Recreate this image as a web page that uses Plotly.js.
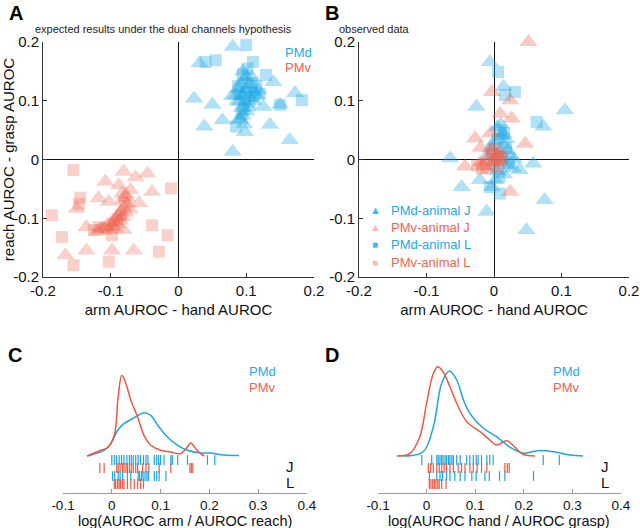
<!DOCTYPE html>
<html>
<head>
<meta charset="utf-8">
<script src="https://cdn.plot.ly/plotly-3.0.1.min.js"></script>
<style>body{margin:0}#graph{width:640px;height:528px}</style>
</head>
<body>
<div id="graph"></div>
<script>
// Colours
const blue = 'rgb(30,170,230)';
const red = 'rgb(240,100,80)';
const blueLine = 'rgb(30,165,225)';
const redLine = 'rgb(235,90,65)';
const font = 'Liberation Sans, Arial, sans-serif';

// Panel A: expected results (x = arm - hand, y = reach - grasp)
const aPmdTri = [[0.080,0.192],[0.031,0.164],[0.023,0.104],[0.050,0.093],[0.038,0.056],[0.065,0.067],[0.080,0.013],[0.098,0.047],[0.135,0.059],[0.140,0.132],[0.172,0.113],[0.150,0.093],[0.164,0.033],[0.125,0.090],[0.090,0.067],
  [0.095,0.150],[0.100,0.140],[0.092,0.130],[0.105,0.128],[0.088,0.120],[0.098,0.118],[0.110,0.115],[0.085,0.110],[0.095,0.108],[0.105,0.105],[0.115,0.110],[0.090,0.098],[0.100,0.095],[0.110,0.100],[0.093,0.088],[0.100,0.082],[0.095,0.075],[0.090,0.070],[0.102,0.120],[0.097,0.135],[0.108,0.140],[0.087,0.100],[0.118,0.118],[0.079,0.108],[0.097,0.060]];
const aPmdSq = [[0.100,0.195],[0.055,0.169],[0.040,0.166],[0.110,0.166],[0.129,0.144],[0.182,0.101],[0.085,0.056],[0.150,0.093],
  [0.102,0.155],[0.095,0.145],[0.108,0.130],[0.100,0.115],[0.090,0.112],[0.112,0.108],[0.098,0.102],[0.105,0.092],[0.096,0.085],[0.088,0.125],[0.120,0.112],[0.093,0.078],[0.115,0.125]];
const aPmvTri = [[-0.081,-0.021],[-0.063,-0.030],[-0.046,-0.024],[-0.108,-0.038],[-0.088,-0.044],[-0.071,-0.052],[-0.039,-0.055],[-0.118,-0.066],[-0.103,-0.072],[-0.150,-0.084],[-0.136,-0.115],[-0.136,-0.155],[-0.167,-0.163],[-0.098,-0.155],[-0.066,-0.155],[-0.081,-0.120],[-0.058,-0.074],
  [-0.078,-0.060],[-0.082,-0.068],[-0.075,-0.075],[-0.080,-0.082],[-0.085,-0.088],[-0.078,-0.090],[-0.088,-0.095],[-0.082,-0.098],[-0.092,-0.100],[-0.086,-0.104],[-0.095,-0.106],[-0.100,-0.108],[-0.090,-0.110],[-0.105,-0.112],[-0.098,-0.115],[-0.110,-0.116],[-0.115,-0.118],[-0.103,-0.120],[-0.120,-0.122],[-0.093,-0.118],[-0.072,-0.085],[-0.076,-0.065],[-0.083,-0.058]];
const aPmvSq = [[-0.155,-0.018],[-0.011,-0.049],[-0.187,-0.095],[-0.145,-0.065],[-0.147,-0.076],[-0.172,-0.132],[-0.155,-0.180],[-0.103,-0.174],[-0.039,-0.112],[-0.016,-0.129],[-0.029,-0.157],[-0.118,-0.115],[-0.098,-0.129],
  [-0.085,-0.095],[-0.095,-0.110],[-0.108,-0.118],[-0.080,-0.075],[-0.090,-0.102],[-0.125,-0.120]];

// Panel B: observed data
const bPmdJ = [[-0.006,0.166],[-0.026,0.090],[0.014,0.124],[-0.065,0.002],[-0.048,-0.047],[-0.021,-0.035],[-0.011,-0.089],[0.048,-0.120],[0.075,-0.069],[0.058,-0.007],[0.038,-0.018],[0.073,0.056],[0.105,0.084],[0.014,0.044],[-0.003,-0.047],
  [0.005,0.055],[0.010,0.040],[0.000,0.030],[0.015,0.025],[0.020,0.015],[0.008,0.010],[0.025,0.005],[0.012,-0.005],[0.020,-0.010],[0.005,-0.020],[0.015,-0.025],[-0.005,0.020],[0.030,0.000],[0.002,-0.035],[0.010,0.060],[0.018,0.035],[-0.010,0.005],[0.028,-0.015]];
const bPmvJ = [[0.051,0.200],[-0.003,0.115],[0.024,0.101],[0.026,0.070],[-0.028,0.036],[0.046,0.027],[0.024,-0.055],[-0.043,-0.012],[0.009,0.078],[-0.020,0.020],[-0.005,0.045],
  [-0.010,0.000],[0.000,-0.005],[0.005,0.008],[-0.015,-0.010],[0.008,-0.003],[-0.005,0.015],[-0.020,-0.005],[0.010,0.012],[-0.008,-0.018],[0.003,0.003]];
const bPmdL = [[0.006,0.149],[0.031,0.115],[0.016,0.110],[0.063,0.064],[0.009,-0.058],[-0.006,-0.047],
  [0.010,0.050],[0.005,0.035],[0.018,0.020],[0.012,0.005],[0.000,-0.010],[0.022,-0.005],[0.008,-0.030],[0.015,0.045],[-0.003,0.012]];
const bPmvL = [[-0.012,-0.008],[0.004,0.000],[-0.018,-0.015],[0.010,0.005],[-0.003,0.010],[0.006,-0.012],[-0.025,-0.010],[0.000,0.018]];

// Panel C: density of log(AUROC arm / AUROC reach)
const cPmdX = [-0.051,-0.016,-0.002,0.012,0.025,0.046,0.066,0.080,0.094,0.114,0.135,0.155,0.182,0.203,0.223,0.261];
const cPmdY = [0,0.57,1.23,2.57,3.23,3.83,4.33,4.07,3.07,1.9,1.07,0.57,0.3,0.3,0.13,0.05];
const cPmvX = [-0.050,-0.023,-0.009,0.005,0.013,0.0205,0.029,0.039,0.053,0.066,0.080,0.100,0.121,0.141,0.152,0.162,0.172,0.182,0.190];
const cPmvY = [0,0.57,0.83,2.07,5.9,8.07,7.23,5.57,3.9,2.07,1.07,0.57,0.4,0.23,0.73,1.3,0.73,0.23,0];
// Panel C rug values
const cRugPmdJ = [0.000,0.005,0.0096,0.015,0.020,0.025,0.031,0.036,0.040,0.044,0.049,0.054,0.059,0.065,0.070,0.074,0.087,0.092,0.096,0.100,0.107,0.121,0.124,0.135,0.155,0.196,0.211];
const cRugPmvJ = [-0.0246,-0.0157,0.0102,0.013,0.017,0.022,0.025,0.029,0.032,0.036,0.040,0.044,0.049,0.053,0.063,0.070,0.076,0.097,0.121,0.160,0.163,0.166];
const cRugPmdL = [0.0014,0.006,0.013,0.017,0.022,0.032,0.039,0.054,0.057,0.061,0.064,0.068,0.072,0.075,0.087,0.092,0.097,0.111];
const cRugPmvL = [0.005,0.008,0.012,0.015,0.018,0.022,0.025,0.032,0.039,0.046,0.053,0.059,0.065];

// Panel D: density of log(AUROC hand / AUROC grasp)
const dPmdX = [-0.048,-0.007,0.014,0.031,0.047,0.062,0.076,0.089,0.117,0.144,0.172,0.199,0.227,0.261,0.295,0.322];
const dPmdY = [0,0.43,2.93,7.27,8.5,7.6,5.6,4.27,2.77,1.93,0.87,0.27,0.53,0.43,0.1,0];
const dPmvX = [-0.0615,-0.034,-0.014,0.000,0.014,0.023,0.034,0.048,0.062,0.0825,0.110,0.130,0.144,0.165,0.182,0.199,0.223];
const dPmvY = [0,0.27,1.93,5.27,8.27,8.93,8.43,6.93,5.27,3.43,2.43,1.6,1.1,1.53,0.87,0.17,0];
// Panel D rug values
const dRugPmdJ = [-0.010,0.0105,0.021,0.024,0.0276,0.031,0.034,0.038,0.041,0.045,0.048,0.052,0.055,0.062,0.069,0.0825,0.089,0.096,0.102,0.106,0.113,0.124,0.130,0.137,0.240,0.273];
const dRugPmvJ = [0.0035,0.0084,0.0138,0.021,0.026,0.031,0.036,0.041,0.048,0.055,0.065,0.072,0.079,0.089,0.096,0.104,0.113,0.124,0.161,0.166,0.170];
const dRugPmdL = [0.0056,0.021,0.0276,0.033,0.041,0.048,0.058,0.069,0.079,0.093,0.102,0.120,0.129,0.150,0.161,0.220];
const dRugPmvL = [0.0056,0.009,0.0125,0.016,0.0193,0.023,0.026,0.031,0.040];

// Rug row positions (below density baseline)
const rugRows = [-0.4, -1.2, -2.0, -2.8];

const ticks2 = [-0.2, -0.1, 0, 0.1, 0.2];
const ticks2Text = ['-0.2', '-0.1', '0', '0.1', '0.2'];
const ticks4 = [-0.1, 0, 0.1, 0.2, 0.3, 0.4];
const ticks4Text = ['-0.1', '0', '0.1', '0.2', '0.3', '0.4'];

function scatter(pts, symbol, size, color, opacity, xa, ya) {
    return {
        x: pts.map(p => p[0]),
        y: pts.map(p => p[1]),
        xaxis: xa, yaxis: ya,
        type: 'scatter', mode: 'markers', cliponaxis: false,
        marker: { symbol: symbol, size: size, color: color, opacity: opacity, line: { width: 0 } },
        showlegend: false, hoverinfo: 'skip'
    };
}

function curve(xs, ys, color, xa, ya) {
    return {
        x: xs, y: ys, xaxis: xa, yaxis: ya,
        type: 'scatter', mode: 'lines',
        line: { color: color, width: 1.5, shape: 'spline', smoothing: 1 },
        showlegend: false, hoverinfo: 'skip'
    };
}

function rug(xs, row, color, xa, ya) {
    return {
        x: xs, y: xs.map(() => row), xaxis: xa, yaxis: ya,
        type: 'scatter', mode: 'markers',
        marker: { symbol: 'line-ns', size: 7, line: { width: 1.2, color: color } },
        showlegend: false, hoverinfo: 'skip'
    };
}

const traces = [
    scatter(aPmvSq, 'square', 12, red, 0.3, 'x', 'y'),
    scatter(aPmvTri, 'triangle-up', 16, red, 0.3, 'x', 'y'),
    scatter(aPmdSq, 'square', 12, blue, 0.35, 'x', 'y'),
    scatter(aPmdTri, 'triangle-up', 16, blue, 0.35, 'x', 'y'),
    scatter(bPmdJ, 'triangle-up', 16, blue, 0.35, 'x2', 'y2'),
    scatter(bPmdL, 'square', 12, blue, 0.35, 'x2', 'y2'),
    scatter(bPmvJ, 'triangle-up', 16, red, 0.35, 'x2', 'y2'),
    scatter(bPmvL, 'square', 12, red, 0.35, 'x2', 'y2'),
    curve(cPmdX, cPmdY, blueLine, 'x3', 'y3'),
    curve(cPmvX, cPmvY, redLine, 'x3', 'y3'),
    rug(cRugPmdJ, rugRows[0], blueLine, 'x3', 'y3'),
    rug(cRugPmvJ, rugRows[1], redLine, 'x3', 'y3'),
    rug(cRugPmdL, rugRows[2], blueLine, 'x3', 'y3'),
    rug(cRugPmvL, rugRows[3], redLine, 'x3', 'y3'),
    curve(dPmdX, dPmdY, blueLine, 'x4', 'y4'),
    curve(dPmvX, dPmvY, redLine, 'x4', 'y4'),
    rug(dRugPmdJ, rugRows[0], blueLine, 'x4', 'y4'),
    rug(dRugPmvJ, rugRows[1], redLine, 'x4', 'y4'),
    rug(dRugPmdL, rugRows[2], blueLine, 'x4', 'y4'),
    rug(dRugPmvL, rugRows[3], redLine, 'x4', 'y4')
];

function scatterX(domain, anchor, title) {
    return {
        domain: domain, anchor: anchor, range: [-0.2, 0.2],
        tickvals: ticks2, ticktext: ticks2Text, tickfont: { size: 15, color: '#111' },
        ticks: 'inside', ticklen: 4, tickcolor: '#333',
        showline: true, linecolor: '#333', linewidth: 1,
        zeroline: true, zerolinecolor: '#111', zerolinewidth: 1,
        showgrid: false,
        title: { text: title, font: { size: 15, color: '#111' }, standoff: 6 }
    };
}
function scatterY(domain, anchor, title) {
    return {
        domain: domain, anchor: anchor, range: [-0.2, 0.2],
        tickvals: ticks2, ticktext: ticks2Text, tickfont: { size: 15, color: '#111' },
        ticks: 'inside', ticklen: 4, tickcolor: '#333',
        showline: true, linecolor: '#333', linewidth: 1,
        zeroline: true, zerolinecolor: '#111', zerolinewidth: 1,
        showgrid: false,
        title: { text: title, font: { size: 15, color: '#111' }, standoff: 6 }
    };
}
function densX(domain, anchor) {
    return {
        domain: domain, anchor: anchor, range: [-0.1, 0.4],
        tickvals: ticks4, ticktext: ticks4Text, tickfont: { size: 13.5, color: '#111' },
        ticks: 'inside', ticklen: 4, tickcolor: '#999',
        showline: true, linecolor: '#999', linewidth: 1,
        zeroline: false, showgrid: false
    };
}
function densY(domain, anchor) {
    return { domain: domain, anchor: anchor, range: [-3.7, 9.1], visible: false, showgrid: false, zeroline: false };
}

const W = 640, H = 528;
const px = v => v / W;
const py = v => 1 - v / H;

function note(text, x, y, size, color, xanchor, extra) {
    return Object.assign({
        text: text, x: px(x), y: py(y), xref: 'paper', yref: 'paper',
        xanchor: xanchor || 'center', yanchor: 'middle', showarrow: false,
        font: { family: font, size: size, color: color }
    }, extra || {});
}

const annotations = [
    note('<b>A</b>', 7, 13, 20, '#000', 'left'),
    note('<b>B</b>', 323, 13, 20, '#000', 'left'),
    note('<b>C</b>', 6, 355, 20, '#000', 'left'),
    note('<b>D</b>', 323, 355, 20, '#000', 'left'),
    note('expected results under the dual channels hypothesis', 163, 29, 11, '#222'),
    note('observed data', 337, 29, 11, '#222', 'left'),
    note('PMd', 298, 52, 13, blue),
    note('PMv', 298, 67, 13, red),
    note('PMd', 262, 371, 13, blue),
    note('PMv', 262, 387, 13, red),
    note('PMd', 566, 371, 13, blue),
    note('PMv', 566, 387, 13, red),
    note('J', 290, 466, 15, '#111'),
    note('L', 290, 482, 15, '#111'),
    note('J', 605, 466, 15, '#111'),
    note('L', 605, 482, 15, '#111'),
    note('log(AUROC arm / AUROC reach)', 185, 521, 14.5, '#111'),
    note('log(AUROC hand / AUROC grasp)', 499, 521, 14.5, '#111'),
    // legend of panel B
    note('▲', 375, 210, 11, 'rgba(30,170,230,0.85)'),
    note('▲', 375, 227, 11, 'rgba(240,100,80,0.45)'),
    note('■', 375, 244, 10, 'rgba(30,170,230,0.85)'),
    note('■', 375, 262, 10, 'rgba(240,100,80,0.45)'),
    note('PMd-animal J', 389, 210, 13, blue, 'left'),
    note('PMv-animal J', 389, 227, 13, red, 'left'),
    note('PMd-animal L', 389, 244, 13, blue, 'left'),
    note('PMv-animal L', 389, 262, 13, red, 'left')
];

const topDom = [py(277), py(42)];
const botDom = [py(493), py(365)];

const layout = {
    width: W, height: H,
    margin: { l: 0, r: 0, t: 0, b: 0 },
    paper_bgcolor: '#fff', plot_bgcolor: '#fff',
    font: { family: font, color: '#111' },
    showlegend: false,
    xaxis: scatterX([px(43), px(314)], 'y', 'arm AUROC - hand AUROC'),
    yaxis: scatterY(topDom, 'x', 'reach AUROC - grasp AUROC'),
    xaxis2: scatterX([px(359), px(629)], 'y2', 'arm AUROC - hand AUROC'),
    yaxis2: scatterY(topDom, 'x2', ''),
    xaxis3: densX([px(63), px(307)], 'y3'),
    yaxis3: densY(botDom, 'x3'),
    xaxis4: densX([px(378), px(621)], 'y4'),
    yaxis4: densY(botDom, 'x4'),
    annotations: annotations
};

Plotly.newPlot('graph', traces, layout, { displayModeBar: false, staticPlot: true });
</script>
</body>
</html>
